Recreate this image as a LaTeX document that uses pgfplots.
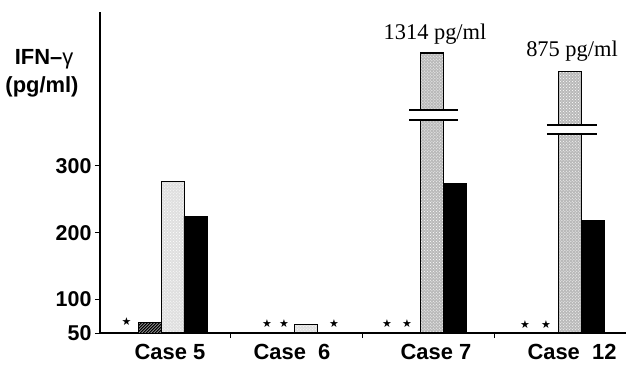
\documentclass[border=0pt]{standalone}
\usepackage{fontspec}
\setmainfont{Liberation Sans}
\newfontfamily\seriffont{Liberation Serif}
\newfontfamily\dejavu{DejaVu Sans}
\usepackage{pgfplots}
\pgfplotsset{compat=1.18}
\usetikzlibrary{patterns,plotmarks}
\begin{document}
\begin{tikzpicture}
\begin{axis}[
  at={(0,0)}, anchor=south west,
  scale only axis, width=526bp, height=321bp,
  xmin=-0.5, xmax=3.485, ymin=50, ymax=530.5,
  axis lines=left, axis line style={line width=1.3bp, -},
  ytick={50,100,200,300},
  xtick={0.03,0.955,2.045,3.076},
  xticklabels={Case 5, Case\ \ 6, Case 7, Case\ \ 12},
  minor xtick={0.485,1.492,2.492},
  major x tick style={draw=none},
  major tick length=5bp, minor tick length=5bp,
  tick align=outside,
  tick style={line width=1bp, black},
  yticklabel style={font=\fontsize{21.5}{24}\selectfont\bfseries},
  xticklabel style={font=\fontsize{22}{24}\selectfont\bfseries, yshift=-3bp},
  /pgf/number format/assume math mode=true,
  clip mode=individual,
]
% hatched series
\addplot[ybar, bar shift=0pt, bar width=23bp, draw=black, line width=1bp, fill=black,
  postaction={pattern=north east lines, pattern color=white}]
  coordinates {(-0.121,66)};
% dotted series (cases 5, 6: lighter scan)
\addplot[ybar, bar shift=0pt, bar width=23bp, draw=black, line width=1.2bp, fill=gray!25,
  postaction={pattern=crosshatch dots, pattern color=white}]
  coordinates {(0.053,277) (1.061,63)};
% dotted series (cases 7, 12)
\addplot[ybar, bar shift=0pt, bar width=23bp, draw=black, line width=1.2bp, fill=gray!55,
  postaction={pattern=crosshatch dots, pattern color=white}]
  coordinates {(2.015,469) (3.061,442)};
% black series
\addplot[ybar, bar shift=0pt, bar width=23bp, draw=black, fill=black]
  coordinates {(0.223,225) (2.189,274) (3.235,219)};
% not detected
\addplot[only marks, mark=text, text mark={\dejavu\fontsize{11}{11}\selectfont ★}]
  coordinates {(-0.299,67) (0.765,64) (0.894,64) (1.273,64) (1.674,64) (1.826,64) (2.72,63) (2.879,63)};
% axis breaks
\fill[white] (axis cs:1.841,369) rectangle (axis cs:2.212,384);
\draw[line width=1.5bp] (axis cs:1.841,369) -- (axis cs:2.212,369);
\draw[line width=1.5bp] (axis cs:1.841,384) -- (axis cs:2.212,384);
\fill[white] (axis cs:2.886,348) rectangle (axis cs:3.265,361);
\draw[line width=1.5bp] (axis cs:2.886,348) -- (axis cs:3.265,348);
\draw[line width=1.5bp] (axis cs:2.886,361) -- (axis cs:3.265,361);
\node[font=\seriffont\fontsize{22.5}{24}\selectfont] at (axis cs:2.038,498) {1314 pg/ml};
\node[font=\seriffont\fontsize{22.5}{24}\selectfont] at (axis cs:3.076,472) {875 pg/ml};
\end{axis}
\node[font=\bfseries\fontsize{22}{24}\selectfont] at (-56bp,274bp) {IFN–{\mdseries γ}};
\node[font=\bfseries\fontsize{22}{24}\selectfont] at (-58bp,246bp) {(pg/ml)};
\pgfresetboundingbox
\path (-100bp,-40bp) rectangle (526bp,333bp);
\end{tikzpicture}
\end{document}
